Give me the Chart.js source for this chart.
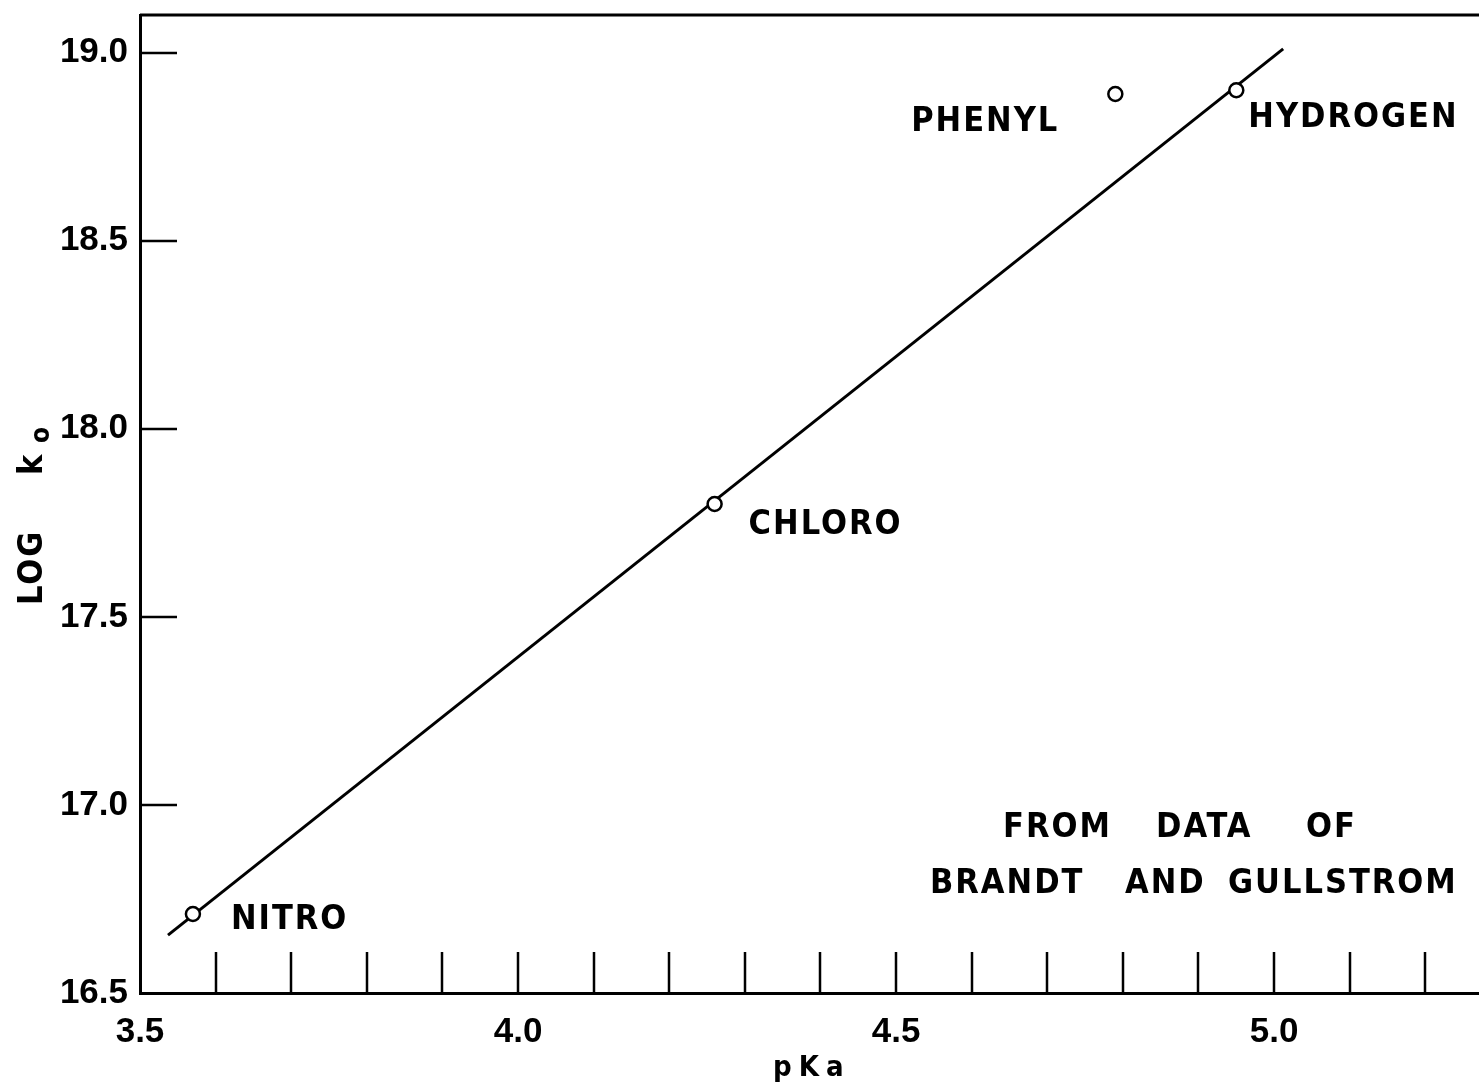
<!DOCTYPE html>
<html>
<head>
<meta charset="utf-8">
<script src="https://cdn.jsdelivr.net/npm/chart.js@4"></script>
<style>
  html, body { margin: 0; padding: 0; background: #fff; }
  #wrap { width: 1479px; height: 1086px; position: relative; }
</style>
</head>
<body>
<div id="wrap"><canvas id="rateChart"></canvas></div>
<script>
// measured substituent points
const substituents = ['NITRO', 'CHLORO', 'PHENYL', 'HYDROGEN'];
const pKa = [3.57, 4.26, 4.79, 4.95];
const logK0 = [16.71, 17.80, 18.89, 18.90];

// fitted straight line (end points)
const fitPKa = [3.537, 5.012];
const fitLogK0 = [16.654, 19.01];

// labelled x values; every 0.1 gets an inward tick
const xLabelValues = [3.5, 4.0, 4.5, 5.0];

const noteLines = [['FROM', 'DATA', 'OF'], ['BRANDT', 'AND', 'GULLSTROM']];

const FONT = '"DejaVu Sans Condensed", "DejaVu Sans", sans-serif';
const TICK_FONT = '"Liberation Sans", Arial, sans-serif';

// where each substituent name sits relative to its point: dx, dy, align
const nameOffsets = {
  NITRO: [38, 6, 'left'],
  CHLORO: [34, 21, 'left'],
  PHENYL: [-56, 28, 'right'],
  HYDROGEN: [12, 28, 'left']
};

// word positions for the source note
const notePlace = [
  { y: 828, x: [1003, 1156, 1306] },
  { y: 884, x: [930, 1125, 1228] }
];

const plotDecor = {
  id: 'plotDecor',
  afterDatasetsDraw(chart) {
    const { ctx, chartArea: area, scales: { x, y } } = chart;
    ctx.save();
    ctx.strokeStyle = '#000';
    ctx.fillStyle = '#000';

    // top frame line
    ctx.lineWidth = 3;
    ctx.beginPath();
    ctx.moveTo(area.left, area.top);
    ctx.lineTo(area.right, area.top);
    ctx.stroke();

    // inward ticks
    ctx.lineWidth = 2.5;
    ctx.beginPath();
    x.ticks.forEach(t => {
      if (t.value <= x.min + 1e-6) return;
      const px = Math.round(x.getPixelForValue(t.value));
      ctx.moveTo(px, area.bottom);
      ctx.lineTo(px, area.bottom - 41);
    });
    y.ticks.forEach(t => {
      if (t.value <= y.min + 1e-6) return;
      const py = Math.round(y.getPixelForValue(t.value));
      ctx.moveTo(area.left, py);
      ctx.lineTo(area.left + 37, py);
    });
    ctx.stroke();

    // substituent names
    ctx.font = 'bold 34px ' + FONT;
    ctx.letterSpacing = '2px';
    ctx.textBaseline = 'middle';
    substituents.forEach((name, i) => {
      const [dx, dy, align] = nameOffsets[name];
      ctx.textAlign = align;
      ctx.fillText(name, x.getPixelForValue(pKa[i]) + dx, y.getPixelForValue(logK0[i]) + dy);
    });

    // source note
    ctx.textAlign = 'left';
    noteLines.forEach((words, r) => {
      words.forEach((w, k) => ctx.fillText(w, notePlace[r].x[k], notePlace[r].y));
    });

    // axis titles
    ctx.font = 'bold 29px ' + FONT;
    ctx.letterSpacing = '7px';
    ctx.fillText('pKa', 773, 1068);

    ctx.font = 'bold 34px ' + FONT;
    ctx.letterSpacing = '2px';
    ctx.translate(42, 605);
    ctx.rotate(-Math.PI / 2);
    ctx.textBaseline = 'alphabetic';
    ctx.fillText('LOG', 0, 0);
    ctx.fillText('k', 130, 0);
    ctx.font = 'bold 26px ' + FONT;
    ctx.fillText('o', 162, 7);
    ctx.restore();
  }
};

new Chart(document.getElementById('rateChart'), {
  type: 'scatter',
  data: {
    datasets: [
      {
        data: fitPKa.map((v, i) => ({ x: v, y: fitLogK0[i] })),
        showLine: true,
        borderColor: '#000',
        borderWidth: 3,
        pointRadius: 0,
        order: 2
      },
      {
        data: pKa.map((v, i) => ({ x: v, y: logK0[i] })),
        pointStyle: 'circle',
        pointRadius: 7,
        backgroundColor: '#fff',
        borderColor: '#000',
        borderWidth: 2.5,
        order: 1
      }
    ]
  },
  options: {
    responsive: true,
    maintainAspectRatio: false,
    animation: false,
    events: [],
    layout: { autoPadding: false, padding: { top: 15, left: 0, right: 0, bottom: 0 } },
    plugins: {
      legend: { display: false },
      tooltip: { enabled: false }
    },
    scales: {
      x: {
        type: 'linear',
        min: 3.5,
        max: 5.271,
        grid: { display: true, drawOnChartArea: false, drawTicks: false },
        border: { display: true, color: '#000', width: 3 },
        ticks: {
          stepSize: 0.1,
          includeBounds: false,
          autoSkip: false,
          maxRotation: 0,
          padding: 18,
          color: '#000',
          font: { family: TICK_FONT, size: 35, weight: 'bold' },
          callback: v => xLabelValues.some(l => Math.abs(l - v) < 1e-6) ? v.toFixed(1) : ''
        },
        afterFit: s => { s.height = 93; s.paddingLeft = 0; s.paddingRight = 0; }
      },
      y: {
        type: 'linear',
        min: 16.5,
        max: 19.1,
        grid: { display: true, drawOnChartArea: false, drawTicks: false },
        border: { display: true, color: '#000', width: 3 },
        ticks: {
          stepSize: 0.5,
          includeBounds: false,
          padding: 12,
          color: '#000',
          font: { family: TICK_FONT, size: 35, weight: 'bold' },
          callback: v => v.toFixed(1)
        },
        afterFit: s => { s.width = 140; s.paddingTop = 0; s.paddingBottom = 0; }
      }
    }
  },
  plugins: [plotDecor]
});
</script>
</body>
</html>
